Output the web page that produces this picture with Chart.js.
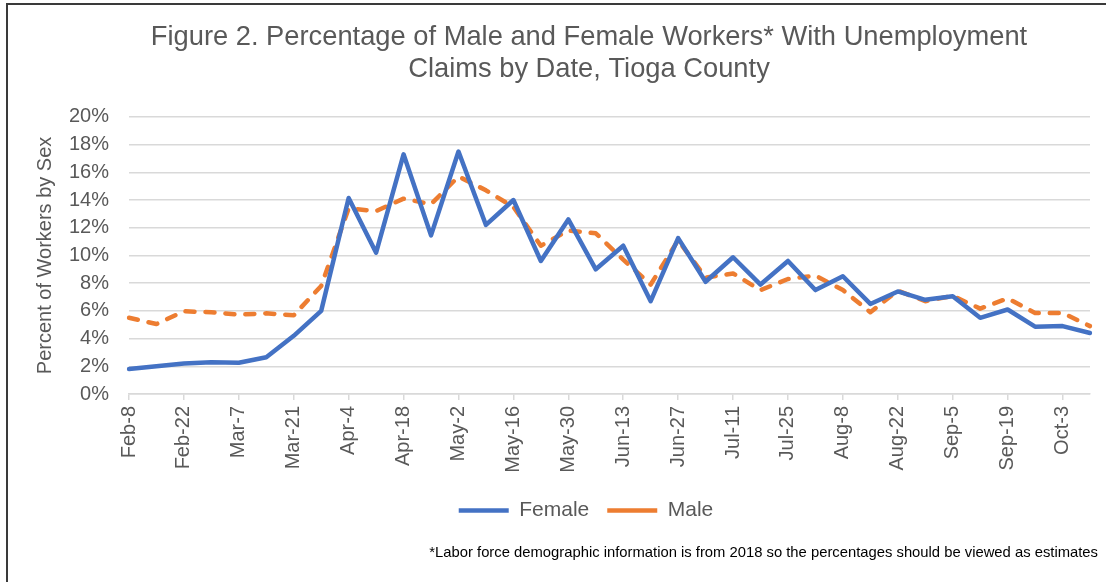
<!DOCTYPE html>
<html>
<head>
<meta charset="utf-8">
<script src="https://cdn.jsdelivr.net/npm/chart.js@4.4.1/dist/chart.umd.min.js"></script>
<style>
  html, body { margin: 0; padding: 0; background: #fff; }
  #wrap { position: relative; width: 1106px; height: 582px; }
  #frame { position: absolute; left: 6px; top: 3px; right: 0; bottom: 0;
           border-left: 2px solid #3a3a3a; border-top: 2px solid #3a3a3a; pointer-events: none; }
</style>
</head>
<body>
<div id="wrap">
  <canvas id="chart" width="1106" height="582"></canvas>
  <div id="frame"></div>
</div>
<script>
const weeks = ['Feb-8', 'Feb-15', 'Feb-22', 'Feb-29', 'Mar-7', 'Mar-14', 'Mar-21', 'Mar-28',
    'Apr-4', 'Apr-11', 'Apr-18', 'Apr-25', 'May-2', 'May-9', 'May-16', 'May-23', 'May-30',
    'Jun-6', 'Jun-13', 'Jun-20', 'Jun-27', 'Jul-4', 'Jul-11', 'Jul-18', 'Jul-25', 'Aug-1',
    'Aug-8', 'Aug-15', 'Aug-22', 'Aug-29', 'Sep-5', 'Sep-12', 'Sep-19', 'Sep-26', 'Oct-3', 'Oct-10'];

const femalePct = [1.8, 2.0, 2.2, 2.3, 2.25, 2.65, 4.2, 6.0, 14.15, 10.2, 17.3, 11.45, 17.5, 12.2,
    14.0, 9.6, 12.6, 9.0, 10.7, 6.7, 11.25, 8.1, 9.87, 7.9, 9.6, 7.5, 8.5, 6.5, 7.4, 6.8, 7.05,
    5.5, 6.1, 4.86, 4.9, 4.4];

const malePct = [5.5, 5.05, 5.97, 5.9, 5.73, 5.82, 5.68, 7.8, 13.4, 13.2, 14.1, 13.7, 15.7, 14.7,
    13.5, 10.7, 11.8, 11.6, 9.7, 7.9, 11.1, 8.4, 8.7, 7.5, 8.3, 8.55, 7.5, 5.9, 7.46, 6.7, 7.08,
    6.16, 6.9, 5.85, 5.85, 4.9];

const yTicks = [0, 2, 4, 6, 8, 10, 12, 14, 16, 18, 20];

const TEXT_GREY = '#595959';
const GRID_GREY = '#d9d9d9';
const FONT = '"Liberation Sans", Arial, sans-serif';

// Excel centres the title and legend a bit right of the canvas middle
const boxCentres = {
    id: 'boxCentres',
    afterLayout(chart) {
        const move = (box, centre) => {
            if (!box) return;
            const dx = centre - (box.left + box.right) / 2;
            box.left += dx;
            box.right += dx;
        };
        move(chart.titleBlock, 589);
        move(chart.legend, 586);
    }
};

const footnotePlugin = {
    id: 'footnote',
    afterDraw(chart) {
        const ctx = chart.ctx;
        ctx.save();
        ctx.font = '14.8px ' + FONT;
        ctx.fillStyle = '#000';
        ctx.textAlign = 'right';
        ctx.textBaseline = 'middle';
        ctx.fillText('*Labor force demographic information is from 2018 so the percentages should be viewed as estimates', 1098, 553);
        ctx.restore();
    }
};

const ctx = document.getElementById('chart').getContext('2d');
new Chart(ctx, {
    type: 'line',
    data: {
        labels: weeks,
        datasets: [
            {
                label: 'Female',
                data: femalePct,
                borderColor: '#4472c4',
                backgroundColor: '#4472c4',
                borderWidth: 4.5,
                borderJoinStyle: 'round',
                borderCapStyle: 'round',
                pointRadius: 0,
                tension: 0
            },
            {
                label: 'Male',
                data: malePct,
                borderColor: '#ed7d31',
                backgroundColor: '#ed7d31',
                borderWidth: 4.5,
                borderDash: [9, 11],
                borderJoinStyle: 'round',
                borderCapStyle: 'round',
                pointRadius: 0,
                tension: 0
            }
        ]
    },
    options: {
        responsive: false,
        animation: false,
        layout: { padding: { left: 0, right: 16, top: 0, bottom: 51 } },
        plugins: {
            title: {
                display: true,
                text: ['Figure 2. Percentage of Male and Female Workers* With Unemployment',
                       'Claims by Date, Tioga County'],
                color: TEXT_GREY,
                font: { family: FONT, size: 27.3, weight: 'normal', lineHeight: 1.17 },
                padding: { top: 22, bottom: 31 }
            },
            legend: {
                position: 'bottom',
                labels: {
                    color: TEXT_GREY,
                    font: { family: FONT, size: 21 },
                    usePointStyle: true,
                    pointStyle: 'line',
                    pointStyleWidth: 50,
                    boxWidth: 50,
                    padding: 18
                }
            },
            tooltip: { enabled: false }
        },
        scales: {
            x: {
                offset: false,
                afterFit(scale) {
                    scale.height = 88;
                    scale.paddingRight = 0;
                    scale.paddingLeft = 0;
                },
                grid: {
                    drawOnChartArea: false,
                    drawTicks: true,
                    tickLength: 6,
                    lineWidth: 1.5,
                    color: (c) => (c.index % 2 === 0 ? GRID_GREY : 'rgba(0,0,0,0)')
                },
                border: { display: true, color: GRID_GREY, width: 1.5 },
                ticks: {
                    autoSkip: false,
                    maxRotation: 90,
                    minRotation: 90,
                    padding: 6,
                    color: TEXT_GREY,
                    font: { family: FONT, size: 20 },
                    callback(value, index) {
                        return index % 2 === 0 ? this.getLabelForValue(value) : '';
                    }
                }
            },
            y: {
                min: yTicks[0],
                max: yTicks[yTicks.length - 1],
                afterFit(scale) { scale.width = 129; },
                afterBuildTicks(scale) { scale.ticks = yTicks.map(v => ({ value: v })); },
                grid: { color: GRID_GREY, lineWidth: 1.5, drawTicks: false },
                border: { display: false },
                ticks: {
                    padding: 20,
                    color: TEXT_GREY,
                    font: { family: FONT, size: 20 },
                    callback: (v) => v + '%'
                },
                title: {
                    display: true,
                    text: 'Percent of Workers by Sex',
                    color: TEXT_GREY,
                    font: { family: FONT, size: 20 },
                    padding: { top: 33, bottom: 0 }
                }
            }
        }
    },
    plugins: [boxCentres, footnotePlugin]
});
</script>
</body>
</html>
